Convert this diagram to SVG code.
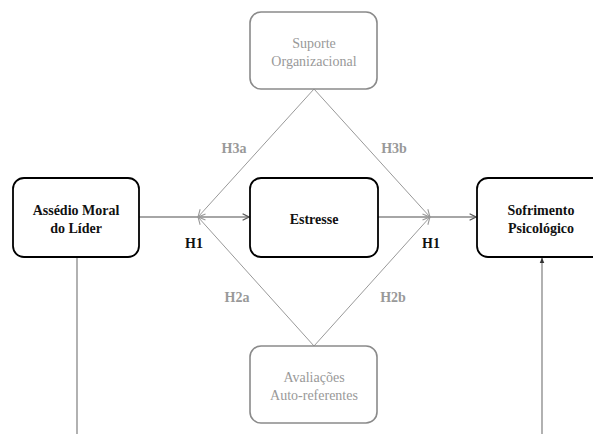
<svg xmlns="http://www.w3.org/2000/svg" width="593" height="434" viewBox="0 0 593 434">
<defs>
<style>
.main rect{fill:#fff;stroke:#000;stroke-width:1.8}
.mod rect{fill:#fff;stroke:#8a8a8a;stroke-width:1.6}
text{font-size:14px;text-anchor:middle}
.main text{font-weight:bold;fill:#111}
.mod text{fill:#999}
.lbl{font-weight:bold;fill:#111}
.glbl{font-weight:bold;fill:#999}
.c line{stroke:#888;stroke-width:1.3;fill:none}
.c .d{stroke:#999;stroke-width:1}
</style>
<marker id="ah" viewBox="0 0 10 10" refX="9" refY="5" markerWidth="8" markerHeight="8" markerUnits="userSpaceOnUse" orient="auto">
<path d="M1,1 L9,5 L1,9" fill="none" stroke="#555" stroke-width="1.5"/>
</marker>
<marker id="ahg" viewBox="0 0 10 10" refX="9" refY="5" markerWidth="9" markerHeight="9" markerUnits="userSpaceOnUse" orient="auto">
<path d="M1,1 L9,5 L1,9" fill="none" stroke="#999" stroke-width="1.2"/>
</marker>
<marker id="ahs" viewBox="0 0 10 10" refX="9" refY="5" markerWidth="6" markerHeight="6" markerUnits="userSpaceOnUse" orient="auto">
<path d="M0,1 L10,5 L0,9 Z" fill="#333"/>
</marker>
</defs>
<rect width="593" height="434" fill="#fff"/>
<g class="c" id="connectors">
<line x1="139" y1="217" x2="249" y2="217" marker-end="url(#ah)"/>
<line x1="378" y1="217" x2="476" y2="217" marker-end="url(#ah)"/>
<line class="d" x1="314" y1="89" x2="198" y2="217" marker-end="url(#ahg)"/>
<line class="d" x1="314" y1="346" x2="198" y2="217" marker-end="url(#ahg)"/>
<line class="d" x1="314" y1="89" x2="430" y2="217" marker-end="url(#ahg)"/>
<line class="d" x1="314" y1="346" x2="430" y2="217" marker-end="url(#ahg)"/>
<line x1="77" y1="257" x2="77" y2="434"/>
<line x1="542" y1="434" x2="542" y2="258" marker-end="url(#ahs)"/>
</g>
<g font-family="Times New Roman, Liberation Serif, serif">
<g id="assedio" class="main">
<rect x="13" y="178" width="126" height="79" rx="11"/>
<text x="76" y="215">Assédio Moral</text>
<text x="76" y="233">do Líder</text>
</g>
<g id="estresse" class="main">
<rect x="250" y="178" width="128" height="79" rx="11"/>
<text x="314" y="224">Estresse</text>
</g>
<g id="sofrimento" class="main">
<rect x="477" y="178" width="128" height="79" rx="11"/>
<text x="541" y="215">Sofrimento</text>
<text x="541" y="233">Psicológico</text>
</g>
<g id="suporte" class="mod">
<rect x="250" y="12" width="127" height="77" rx="11"/>
<text x="314" y="48">Suporte</text>
<text x="314" y="66">Organizacional</text>
</g>
<g id="avaliacoes" class="mod">
<rect x="250" y="346" width="127" height="77" rx="11"/>
<text x="314" y="382">Avaliações</text>
<text x="314" y="400">Auto-referentes</text>
</g>
<g id="labels">
<text class="lbl" x="194" y="248">H1</text>
<text class="lbl" x="431" y="248">H1</text>
<text class="glbl" x="234" y="153">H3a</text>
<text class="glbl" x="394" y="153">H3b</text>
<text class="glbl" x="237" y="302">H2a</text>
<text class="glbl" x="393" y="302">H2b</text>
</g>
</g>
</svg>
